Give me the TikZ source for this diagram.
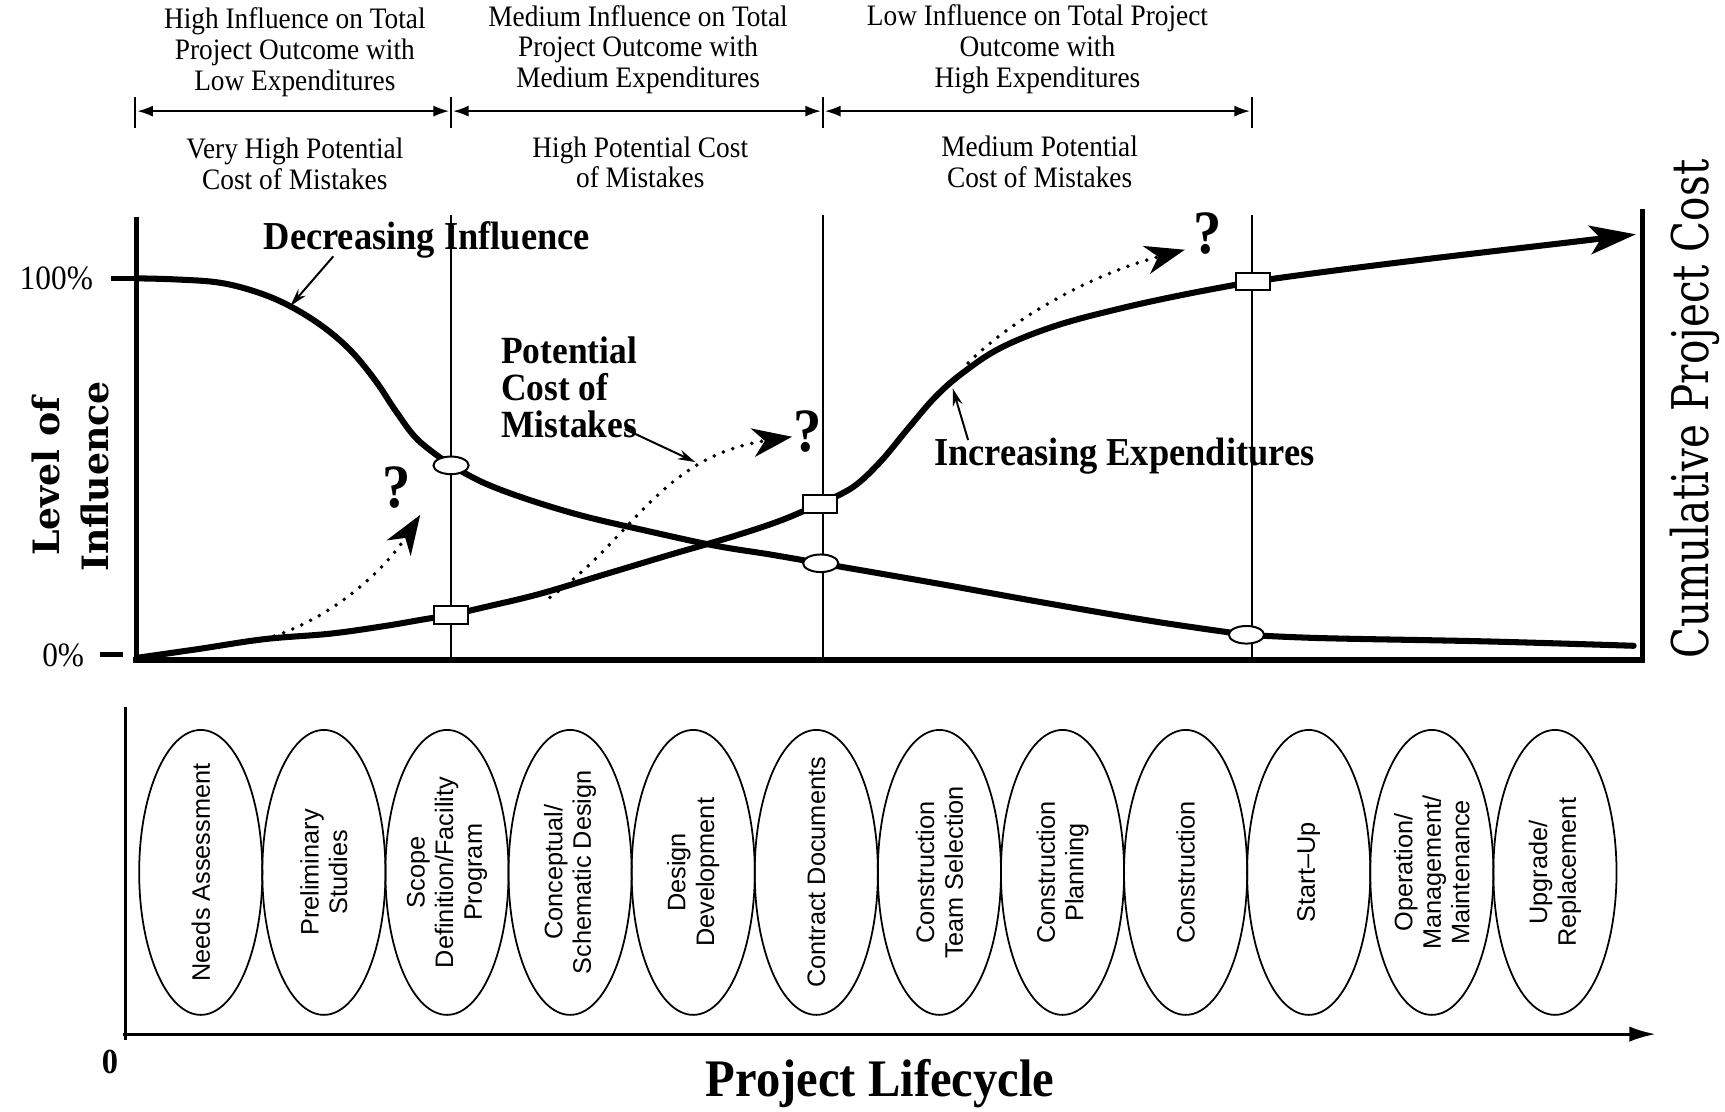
\documentclass[tikz,border=0pt]{standalone}
\usepackage{fontspec}
\setmainfont{Liberation Serif}
\newfontfamily\cs{Liberation Serif}[FakeStretch=0.92]
\newfontfamily\cent{DejaVu Serif}
\newfontfamily\centw{DejaVu Serif}[FakeStretch=0.8]
\setsansfont{Liberation Sans}
\usetikzlibrary{arrows.meta,shapes.geometric}
\tikzset{
  curve/.style={line width=5.5pt, line cap=round, line join=round},
  sepline/.style={line width=2.4pt},
  axisline/.style={line width=5pt},
  mk/.style={draw, fill=white, line width=1.8pt, inner sep=0pt},
  mkc/.style={mk, ellipse, minimum width=32pt, minimum height=16pt},
  mks/.style={mk, rectangle, minimum width=31pt, minimum height=16pt},
  dots/.style={line width=3.6pt, dash pattern=on 0pt off 9pt, line cap=round},
  bigtip/.style={-{Stealth[length=36pt,width=26pt,inset=11pt]}},
  larrow/.style={line width=1.8pt, -{Stealth[length=16pt,width=9pt]}},
  phase/.style={draw, ellipse, line width=1.6pt, minimum width=112pt, minimum height=259pt, inner sep=0pt},
  ptext/.style={rotate=90, align=center, font=\sffamily\fontsize{23}{26}\selectfont},
  toptext/.style={align=center, font=\cs\fontsize{27}{28}\selectfont},
  lbl/.style={font=\cs\bfseries\fontsize{36}{34}\selectfont},
  qm/.style={font=\cs\bfseries\fontsize{56}{60}\selectfont},
  pct/.style={anchor=east, font=\cs\fontsize{31}{32}\selectfont},
  span/.style={line width=1.3pt, {Latex[length=14pt,width=10pt]}-{Latex[length=14pt,width=10pt]}},
}
\begin{document}
\begin{tikzpicture}[x=1pt,y=-1pt]
\useasboundingbox (0,0) rectangle (1568,1010);

% ---------- top header ----------
\node[toptext] (t1) at (268,47.5) {High Influence on Total\\Project Outcome with\\Low Expenditures};
\node[toptext] (t2) at (580,45) {Medium Influence on Total\\Project Outcome with\\Medium Expenditures};
\node[toptext] (t3) at (943,45) {Low Influence on Total Project\\Outcome with\\High Expenditures};
\node[toptext] (b1) at (268,149) {Very High Potential\\Cost of Mistakes};
\node[toptext] (b2) at (582,147.5) {High Potential Cost\\of Mistakes};
\node[toptext] (b3) at (945,147) {Medium Potential\\Cost of Mistakes};

\coordinate (p0) at (123,101);
\coordinate (p1) at (410,101);
\coordinate (p2) at (748,101);
\coordinate (p3) at (1138,101);
\foreach \x in {123,410,748,1138} \draw[line width=1.6pt] (\x,88) -- (\x,116);
\draw[span] ([xshift=2pt]p0) -- ([xshift=-2pt]p1);
\draw[span] ([xshift=2pt]p1) -- ([xshift=-2pt]p2);
\draw[span] ([xshift=2pt]p2) -- ([xshift=-2pt]p3);

% ---------- chart frame ----------
\draw[axisline] (124,197) -- (124,602);
\draw[axisline] (121,600) -- (1495,600);
\draw[axisline] (1493,190) -- (1493,602);
\foreach \x in {410,748,1138} \draw[sepline] (\x,195) -- (\x,600);
\draw[line width=5pt] (101,253) -- (124,253);
\draw[line width=5pt] (91,595) -- (112,595);
\node[pct] (l100) at (88,253) {100\%};
\node[pct] (l0) at (80,596) {0\%};

\node[rotate=90, align=center, font=\cent\bfseries\fontsize{33}{44}\selectfont] (loi) at (64,433) {Level of\\Influence};
\node[rotate=90, font=\centw\fontsize{46}{50}\selectfont] (cpc) at (1541,372) {Cumulative Project Cost};

% ---------- decreasing influence curve ----------
\draw[curve] plot[smooth, tension=0.6] coordinates {(124,253) (160,254) (200,257) (235,266) (265,279) (295,298) (320,320) (342,347) (360,374) (380,400) (410,423)};
\draw[curve] plot[smooth, tension=0.6] coordinates {(410,423) (440,439) (480,454) (530,469) (590,483) (650,496) (700,504) (746,512)};
\draw[curve] plot[smooth, tension=0.6] coordinates {(746,512) (850,530) (950,548) (1050,565) (1133,577)};
\draw[curve] plot[smooth, tension=0.6] coordinates {(1133,577) (1200,580) (1350,583) (1485,587)};

% ---------- increasing expenditures curve ----------
\draw[curve] plot[smooth, tension=0.6] coordinates {(124,598) (180,590) (240,581) (300,576) (350,569) (385,563) (410,559)};
\draw[curve] plot[smooth, tension=0.6] coordinates {(410,559) (440,552) (490,540) (550,522) (610,504) (665,488) (710,473) (745,458)};
\draw[curve] plot[smooth, tension=0.6] coordinates {(745,458) (775,443) (800,420) (825,390) (850,361) (875,339) (910,316) (960,296) (1020,280) (1080,267) (1139,256)};
\coordinate (tipe) at (1487,213);
\draw[curve, -{Stealth[length=42pt,width=26pt,inset=10pt]}] (1139,256) .. controls (1250,240) and (1380,226) .. (tipe);

% ---------- markers ----------
\node[mkc] (d1) at (410,423) {};
\node[mkc] (d2) at (746,512) {};
\node[mkc] (d3) at (1133,577) {};
\node[mks] (u1) at (410,559) {};
\node[mks] (u2) at (745,458) {};
\node[mks] (u3) at (1139,256) {};

% ---------- dotted arrows and question marks ----------
\coordinate (s1) at (232,583);
\coordinate (e1) at (382,468);
\coordinate (s2) at (500,543);
\coordinate (e2) at (720,397);
\coordinate (s3) at (880,330);
\coordinate (e3) at (1077,227);
\draw[dots, bigtip] (s1) .. controls (290,570) and (345,525) .. (e1);
\draw[dots, bigtip] (s2) .. controls (575,490) and (600,415) .. (e2);
\draw[dots, bigtip] (s3) .. controls (920,290) and (990,250) .. (e3);
\node[qm] (q1) at (361,443) {?};
\node[qm] (q2) at (734,392) {?};
\node[qm] (q3) at (1098,212) {?};

% ---------- labels ----------
\node[lbl] (declab) at (388,218) {Decreasing Influence};
\node[lbl, anchor=west, align=left, font=\cs\bfseries\fontsize{35}{34}\selectfont] (pcm) at (452,352) {Potential\\Cost of\\Mistakes};
\node[lbl] (inclab) at (1022,415) {Increasing Expenditures};
\coordinate (da) at (303,233);
\coordinate (db) at (264,278);
\coordinate (pa) at (568,390);
\coordinate (pb) at (632,420);
\coordinate (ia) at (880,400);
\coordinate (ib) at (866,353);
\draw[larrow] (da) -- (db);
\draw[larrow] (pa) -- (pb);
\draw[larrow] (ia) -- (ib);

% ---------- lifecycle ----------
\draw[line width=2.6pt] (114,643) -- (114,945);
\draw[line width=2.6pt, -{Latex[length=24pt,width=14pt]}] (112,940) -- (1505,940);
\node[font=\cs\bfseries\fontsize{32}{34}\selectfont] (zero) at (100,965) {0};
\node[font=\cs\bfseries\fontsize{48}{50}\selectfont] (plc) at (800,985) {Project Lifecycle};

\foreach \i/\t in {0/{Needs Assessment},1/{Preliminary\\Studies},2/{Scope\\Definition/Facility\\Program},3/{Conceptual/\\Schematic Design},4/{Design\\Development},5/{Contract Documents},6/{Construction\\Team Selection},7/{Construction\\Planning},8/{Construction},9/{Start–Up},10/{Operation/\\Management/\\Maintenance},11/{Upgrade/\\Replacement}}{
  \node[phase] (ph\i) at ({182.5+111.9*\i},793) {};
  \node[ptext] (pt\i) at (ph\i.center) {\t};
}
\end{tikzpicture}
\end{document}
